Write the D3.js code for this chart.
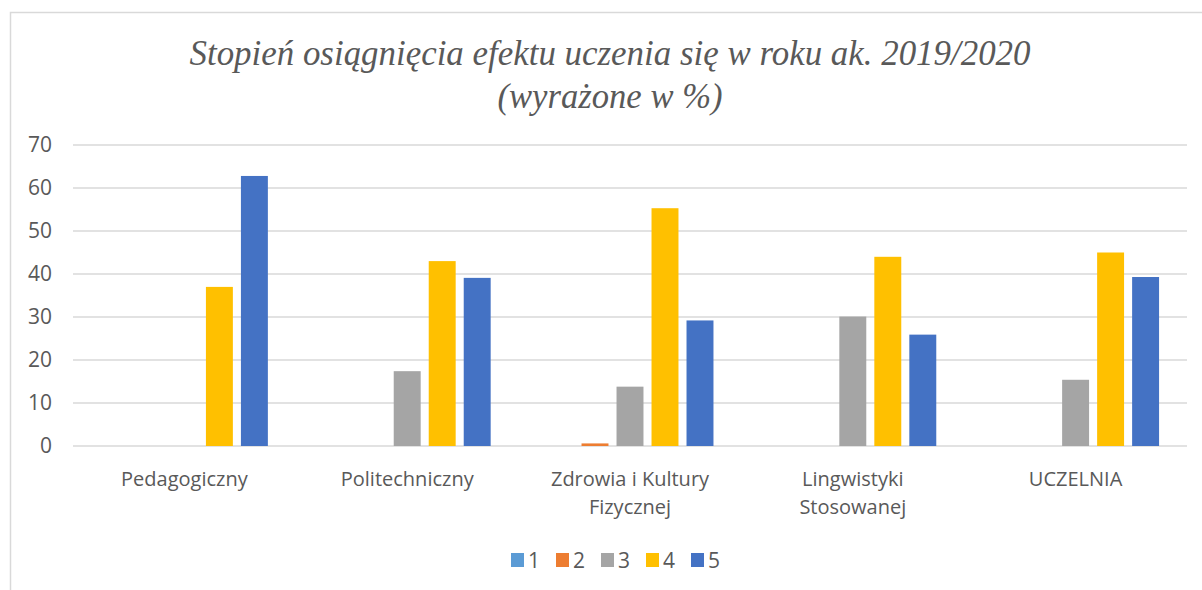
<!DOCTYPE html>
<html>
<head>
<meta charset="utf-8">
<script src="https://cdn.jsdelivr.net/npm/d3@7"></script>
<style>
  body { margin: 0; background: #fff; }
  text { font-family: "Open Sans", sans-serif; fill: #595959; }
</style>
</head>
<body>
<div id="chart"></div>
<script>
// categories on the x axis (labels are split into lines)
var categories = ["Pedagogiczny", "Politechniczny", "Zdrowia i Kultury Fizycznej", "Lingwistyki Stosowanej", "UCZELNIA"];
var categoryLines = [["Pedagogiczny"], ["Politechniczny"], ["Zdrowia i Kultury", "Fizycznej"], ["Lingwistyki", "Stosowanej"], ["UCZELNIA"]];
var seriesNames = ["1", "2", "3", "4", "5"];
var seriesColors = ["#5B9BD5", "#ED7D31", "#A5A5A5", "#FFC000", "#4472C4"];

// values per series, one per category
var s1 = [0, 0, 0, 0, 0];
var s2 = [0, 0, 0.6, 0, 0];
var s3 = [0, 17.4, 13.8, 30.1, 15.4];
var s4 = [37.0, 43.0, 55.3, 44.0, 45.0];
var s5 = [62.8, 39.1, 29.2, 25.9, 39.3];
var yTicks = [0, 10, 20, 30, 40, 50, 60, 70];

var titleLines = ["Stopień osiągnięcia efektu uczenia się w roku ak. 2019/2020", "(wyrażone w %)"];

function init() {
    var w = 1202;
    var h = 590;
    var allSeries = [s1, s2, s3, s4, s5];

    var svg = d3.select("#chart")
                .append("svg")
                .attr("width", w)
                .attr("height", h);

    // chart frame
    svg.append("rect")
        .attr("x", 10.5)
        .attr("y", 12.5)
        .attr("width", 1220)
        .attr("height", 600)
        .attr("fill", "#fff")
        .attr("stroke", "#d9d9d9")
        .attr("stroke-width", 1.5);

    // title
    svg.selectAll("text.title")
        .data(titleLines)
        .enter()
        .append("text")
        .attr("class", "title")
        .attr("x", 610)
        .attr("y", function(d, i) { return 65 + i * 43; })
        .attr("text-anchor", "middle")
        .style("font-family", "'Liberation Serif', 'DejaVu Serif', serif")
        .style("font-style", "italic")
        .style("font-size", "35px")
        .attr("textLength", function(d, i) { return i == 0 ? 841 : 225; })
        .attr("lengthAdjust", "spacingAndGlyphs")
        .text(function(d) { return d; });

    var y = d3.scaleLinear()
              .domain([0, 70])
              .range([446, 145]);

    var x0 = d3.scaleBand()
               .domain(categories)
               .range([73, 1187])
               .paddingInner(0.2146)
               .paddingOuter(0.1073);

    var x1 = d3.scaleBand()
               .domain(seriesNames)
               .range([0, x0.bandwidth()])
               .paddingInner(0.23)
               .paddingOuter(0.115);

    // gridlines
    svg.append("g")
        .selectAll("line")
        .data(yTicks)
        .enter()
        .append("line")
        .attr("x1", 73)
        .attr("x2", 1187)
        .attr("y1", function(d) { return y(d); })
        .attr("y2", function(d) { return y(d); })
        .attr("stroke", "#d9d9d9")
        .attr("stroke-width", 1.5);

    // y axis labels
    var yAxis = d3.axisLeft(y)
                  .tickValues(yTicks)
                  .tickSize(0)
                  .tickPadding(0);
    var yg = svg.append("g")
                .attr("transform", "translate(52,0)")
                .call(yAxis);
    yg.select(".domain").remove();
    yg.selectAll("text")
        .style("font-family", "'Open Sans', sans-serif")
        .style("font-size", "21px")
        .attr("fill", "#595959");

    // bars
    var groups = svg.selectAll("g.cat")
                    .data(categories)
                    .enter()
                    .append("g")
                    .attr("class", "cat")
                    .attr("transform", function(d) { return "translate(" + x0(d) + ",0)"; });

    groups.selectAll("rect")
        .data(function(d, ci) {
            return seriesNames.map(function(s, si) {
                return { series: s, value: allSeries[si][ci], color: seriesColors[si] };
            });
        })
        .enter()
        .append("rect")
        .attr("x", function(d) { return x1(d.series); })
        .attr("width", x1.bandwidth())
        .attr("y", function(d) { return y(d.value); })
        .attr("height", function(d) { return y(0) - y(d.value); })
        .attr("fill", function(d) { return d.color; });

    // x labels
    var xl = svg.selectAll("text.xlab")
                .data(categories)
                .enter()
                .append("text")
                .attr("class", "xlab")
                .attr("text-anchor", "middle")
                .style("font-size", "20px")
                .attr("transform", function(d) { return "translate(" + (x0(d) + x0.bandwidth() / 2) + ",486)"; });
    xl.selectAll("tspan")
        .data(function(d, i) { return categoryLines[i]; })
        .enter()
        .append("tspan")
        .attr("x", 0)
        .attr("y", function(d, i) { return i * 28; })
        .text(function(d) { return d; });

    // legend
    var leg = svg.selectAll("g.leg")
                 .data(seriesNames)
                 .enter()
                 .append("g")
                 .attr("class", "leg")
                 .attr("transform", function(d, i) { return "translate(" + (511 + i * 45) + ",553)"; });
    leg.append("rect")
        .attr("width", 13)
        .attr("height", 14)
        .attr("fill", function(d, i) { return seriesColors[i]; });
    leg.append("text")
        .attr("x", 17)
        .attr("y", 15)
        .style("font-size", "21px")
        .text(function(d) { return d; });
}

window.onload = init;
</script>
</body>
</html>
